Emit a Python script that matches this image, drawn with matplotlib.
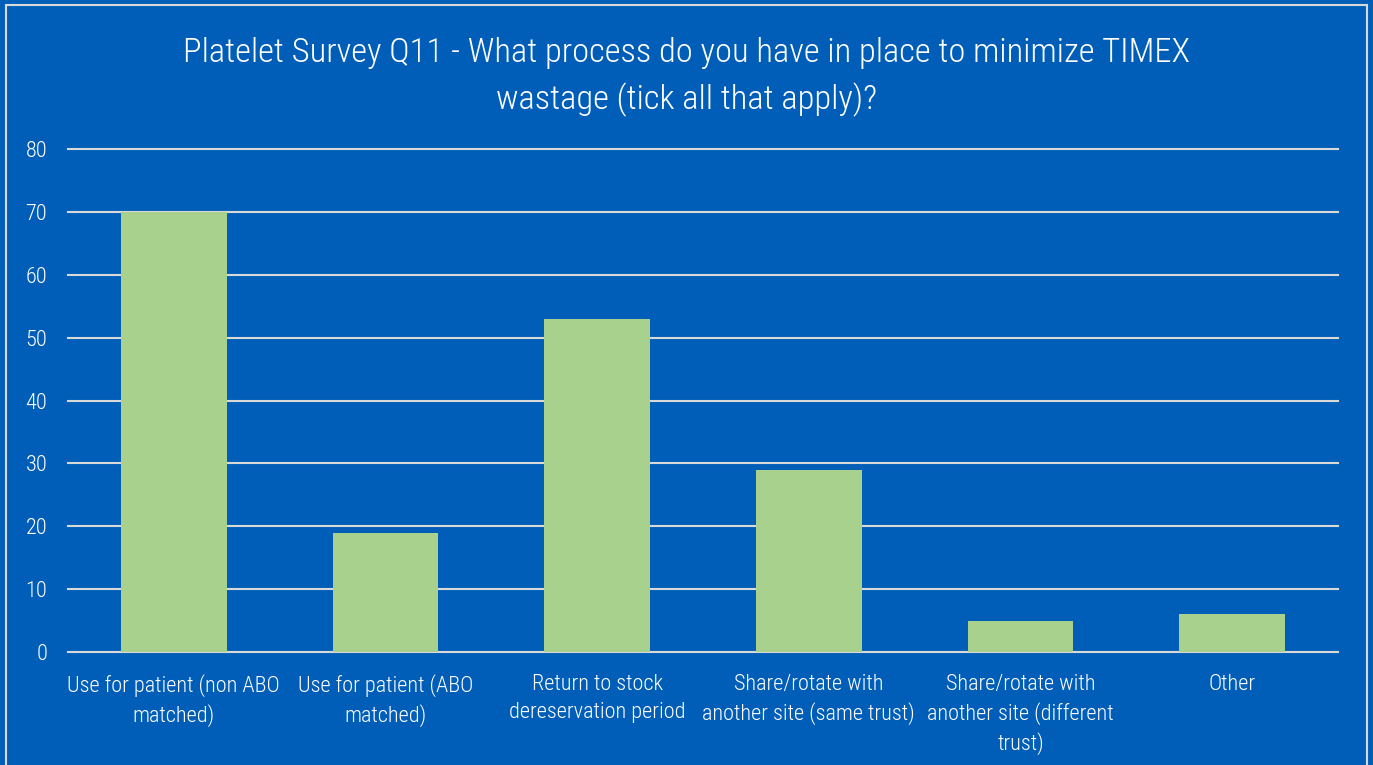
import matplotlib
matplotlib.use('Agg')
import matplotlib.pyplot as plt
from matplotlib import font_manager
from matplotlib.patches import Rectangle

# Survey responses (count of sites per process)
categories = ['Use for patient (non ABO\nmatched)',
              'Use for patient (ABO\nmatched)',
              'Return to stock\ndereservation period',
              'Share/rotate with\nanother site (same trust)',
              'Share/rotate with\nanother site (different\ntrust)',
              'Other']
counts = [70, 19, 53, 29, 5, 6]
y_ticks = [0, 10, 20, 30, 40, 50, 60, 70, 80]

title = ('Platelet Survey Q11 - What process do you have in place to minimize TIMEX\n'
         'wastage (tick all that apply)?')

bg_blue = '#005EB8'
bar_green = '#A9D18E'
grid_grey = '#D9D9D9'


def pick_narrow_font():
    # prefer a narrow, light sans face; fall back to whatever condensed face exists
    files = [f.fname for f in font_manager.fontManager.ttflist]
    files += font_manager.findSystemFonts()
    files = [fn for fn in files if 'Mono' not in fn]
    keys = ('LiberationSansNarrow-Regular',
            'NotoSans-CondensedLight', 'NotoSans-SemiCondensedLight',
            'OpenSans-CondensedLight', 'OpenSans_Condensed-Light',
            'RobotoCondensed-Light', 'Roboto_Condensed-Light',
            'NotoSans-Condensed.', 'NotoSans-CondensedRegular',
            'DejaVuSansCondensed.ttf')
    for key in keys:
        for fn in files:
            base = fn.split('/')[-1]
            if key in base:
                font_manager.fontManager.addfont(fn)
                return fn
    return None


font_file = pick_narrow_font()
fp = font_manager.FontProperties(fname=font_file) if font_file else None
if fp is not None:
    plt.rcParams['font.family'] = [fp.get_name(), 'DejaVu Sans']

fig = plt.figure(figsize=(13.73, 7.65), dpi=100, facecolor=bg_blue)
ax = fig.add_axes([0.0495, 0.1477, 0.925, 0.6575])
ax.set_facecolor(bg_blue)

x = range(len(categories))
ax.bar(x, counts, width=0.5, color=bar_green, zorder=3)

ax.set_ylim(0, 80)
ax.set_xlim(-0.5, len(categories) - 0.5)
ax.set_yticks(y_ticks)
ax.set_xticks(list(x))
ax.set_xticklabels(categories, linespacing=1.4)
for lbl in ax.get_xticklabels() + ax.get_yticklabels():
    if fp is not None:
        lbl.set_fontproperties(fp)
    lbl.set_fontsize(16)
ax.tick_params(axis='y', length=0, pad=15, labelcolor='white')
ax.tick_params(axis='x', length=0, pad=16, labelcolor='white')
ax.grid(axis='y', color=grid_grey, lw=1.5, zorder=1)
for gl in ax.get_ygridlines():
    gl.set_clip_on(False)
for s in ax.spines.values():
    s.set_visible(False)

ttl = fig.text(0.5, 0.899, title, ha='center', va='center', color='white',
               linespacing=1.5)
if fp is not None:
    ttl.set_fontproperties(fp)
ttl.set_fontsize(24.8)

# light frame around the chart area
fig.patches.append(Rectangle((6 / 1373, -0.05), 1361 / 1373, 1.05 - 5 / 765,
                             transform=fig.transFigure, fill=False,
                             edgecolor=grid_grey, lw=1.5))

fig.savefig('out.png', dpi=100, facecolor=bg_blue)
